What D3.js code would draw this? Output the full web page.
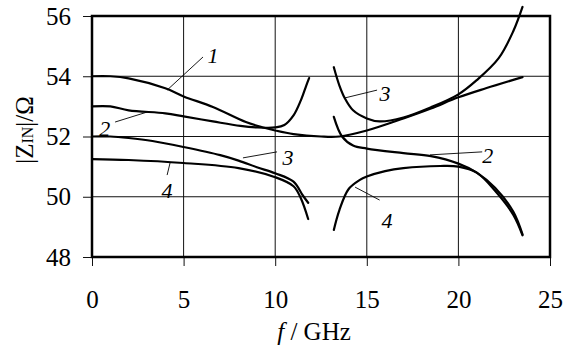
<!DOCTYPE html>
<html>
<head>
<meta charset="utf-8">
<script src="https://d3js.org/d3.v7.min.js"></script>
<style>
  body { margin: 0; background: #fff; }
  svg text { font-family: "Liberation Serif", Tinos, "DejaVu Serif", serif !important; fill: #000; }
</style>
</head>
<body>
<svg id="drawing_region"></svg>
<script>
// branches of |Z_IN| vs f (GHz)
const c1_f = [0, 1, 2, 4, 5, 6.6, 8.4, 9.35, 10, 11, 12.5, 13.5, 15, 17, 18.5, 20, 21.5, 23.5];
const c1_z = [54, 54, 53.93, 53.6, 53.33, 52.98, 52.48, 52.3, 52.2, 52.08, 52.0, 52.0, 52.2, 52.6, 52.93, 53.3, 53.6, 53.97];

const c2L_f = [0, 1, 2, 4, 5, 6.6, 8.1, 9, 10, 10.5, 11, 11.4, 11.7, 11.85];
const c2L_z = [53.0, 53.0, 52.87, 52.77, 52.67, 52.5, 52.35, 52.3, 52.3, 52.38, 52.7, 53.2, 53.7, 53.94];
const c2R_f = [13.2, 13.65, 14.25, 15, 17, 18.5, 20, 21, 22, 23, 23.5];
const c2R_z = [52.65, 52.0, 51.7, 51.6, 51.45, 51.35, 51.1, 50.8, 50.3, 49.5, 48.75];

const c3L_f = [0, 1, 2, 3.3, 5, 7, 8, 9, 10, 11, 11.5, 11.8];
const c3L_z = [52.0, 52.0, 51.95, 51.85, 51.65, 51.38, 51.2, 50.98, 50.78, 50.5, 50.05, 49.8];
const c3R_f = [13.2, 13.5, 13.8, 14.25, 15, 15.7, 17, 18.5, 20, 21, 22.2, 23, 23.5];
const c3R_z = [54.3, 53.7, 53.27, 52.87, 52.6, 52.5, 52.63, 52.97, 53.4, 53.87, 54.6, 55.5, 56.3];

const c4L_f = [0, 2, 5, 8, 10, 11, 11.4, 11.8];
const c4L_z = [51.25, 51.22, 51.12, 50.95, 50.65, 50.35, 49.95, 49.26];
const c4R_f = [13.2, 13.5, 14, 14.6, 15, 16, 17, 19, 20, 21, 22, 23, 23.5];
const c4R_z = [48.9, 49.55, 50.25, 50.55, 50.67, 50.85, 50.95, 51.02, 51.0, 50.8, 50.2, 49.4, 48.72];

const x_ticks = [0, 5, 10, 15, 20, 25];
const y_ticks = [48, 50, 52, 54, 56];

// curve labels: text position and leader line (data coords)
const label_text = ['1', '2', '3', '4', '3', '2', '4'];
const label_pos = [[6.6, 54.7], [0.7, 52.28], [10.7, 51.32], [4.1, 50.22], [16.0, 53.44], [21.6, 51.39], [16.1, 49.23]];
const leader_from = [[4.1, 53.54], [1.26, 52.48], [8.24, 51.29], [4.26, 51.12], [13.8, 53.28], [18.45, 51.39], [14.36, 50.32]];
const leader_to = [[6.06, 54.64], [3.0, 52.81], [10.1, 51.49], [4.1, 50.72], [15.56, 53.54], [21.3, 51.49], [15.7, 49.89]];

const config = {
    width: 565,
    height: 360,
    margin: {top: 16, right: 15, bottom: 103, left: 92}
};

const svg = d3.select('#drawing_region')
    .attr('width', config.width)
    .attr('height', config.height);

const inner_width = config.width - config.margin.left - config.margin.right;
const inner_height = config.height - config.margin.top - config.margin.bottom;

const chart = svg.append('g')
    .attr('transform', `translate(${config.margin.left}, ${config.margin.top})`);

const xscale = d3.scaleLinear().domain([0, 25]).range([0, inner_width]);
const yscale = d3.scaleLinear().domain([48, 56]).range([inner_height, 0]);

// grid
chart.append('g').selectAll('line')
    .data(x_ticks.slice(1, -1))
    .join('line')
    .attr('x1', d => xscale(d)).attr('x2', d => xscale(d))
    .attr('y1', 0).attr('y2', inner_height)
    .attr('stroke', '#111').attr('stroke-width', 1);
chart.append('g').selectAll('line')
    .data(y_ticks.slice(1, -1))
    .join('line')
    .attr('x1', 0).attr('x2', inner_width)
    .attr('y1', d => yscale(d)).attr('y2', d => yscale(d))
    .attr('stroke', '#111').attr('stroke-width', 1);

// axes
const xaxis = d3.axisBottom(xscale).tickValues(x_ticks).tickSize(9).tickSizeOuter(0).tickPadding(24);
const yaxis = d3.axisLeft(yscale).tickValues(y_ticks).tickSize(9).tickSizeOuter(0).tickPadding(12);

const xaxis_group = chart.append('g')
    .attr('transform', `translate(0, ${inner_height})`)
    .call(xaxis);
const yaxis_group = chart.append('g').call(yaxis);

[xaxis_group, yaxis_group].forEach(g => {
    g.attr('font-family', null).attr('font-size', null);
    g.select('.domain').remove();
    g.selectAll('line').attr('stroke', '#111').attr('stroke-width', 1);
    g.selectAll('text')
        .style('font-size', '25px')
        .attr('fill', '#000');
});

// frame
chart.append('rect')
    .attr('width', inner_width).attr('height', inner_height)
    .attr('fill', 'none').attr('stroke', '#000').attr('stroke-width', 2.5);

// curves
const branches = [
    [c1_f, c1_z], [c2L_f, c2L_z], [c2R_f, c2R_z],
    [c3L_f, c3L_z], [c3R_f, c3R_z], [c4L_f, c4L_z], [c4R_f, c4R_z]
];
const line = d3.line()
    .x(d => xscale(d[0]))
    .y(d => yscale(d[1]))
    .curve(d3.curveCatmullRom.alpha(0.5));

chart.append('g').selectAll('path')
    .data(branches.map(b => b[0].map((f, i) => [f, b[1][i]])))
    .join('path')
    .attr('d', line)
    .attr('fill', 'none')
    .attr('stroke', '#000')
    .attr('stroke-width', 2.2)
    .attr('stroke-linecap', 'round');

// leaders and labels
chart.append('g').selectAll('line')
    .data(leader_from.map((p, i) => [p, leader_to[i]]))
    .join('line')
    .attr('x1', d => xscale(d[0][0])).attr('y1', d => yscale(d[0][1]))
    .attr('x2', d => xscale(d[1][0])).attr('y2', d => yscale(d[1][1]))
    .attr('stroke', '#000').attr('stroke-width', 0.9);

chart.append('g').selectAll('text')
    .data(label_pos.map((p, i) => ({p: p, t: label_text[i]})))
    .join('text')
    .attr('x', d => xscale(d.p[0]))
    .attr('y', d => yscale(d.p[1]))
    .attr('dy', '0.35em')
    .attr('text-anchor', 'middle')
    .style('font-style', 'italic')
    .style('font-size', '22px')
    .text(d => d.t);

// axis titles
const xtitle = svg.append('text')
    .attr('x', 314)
    .attr('y', 340)
    .attr('text-anchor', 'middle')
    .style('font-size', '25px');
xtitle.append('tspan').style('font-style', 'italic').text('f');
xtitle.append('tspan').text(' / GHz');

const ytitle = svg.append('text')
    .attr('transform', 'translate(33, 130) rotate(-90)')
    .attr('text-anchor', 'middle')
    .style('font-size', '25px');
ytitle.append('tspan').text('|Z');
ytitle.append('tspan').style('font-size', '16px').text('IN');
ytitle.append('tspan').text('|/Ω');
</script>
</body>
</html>
